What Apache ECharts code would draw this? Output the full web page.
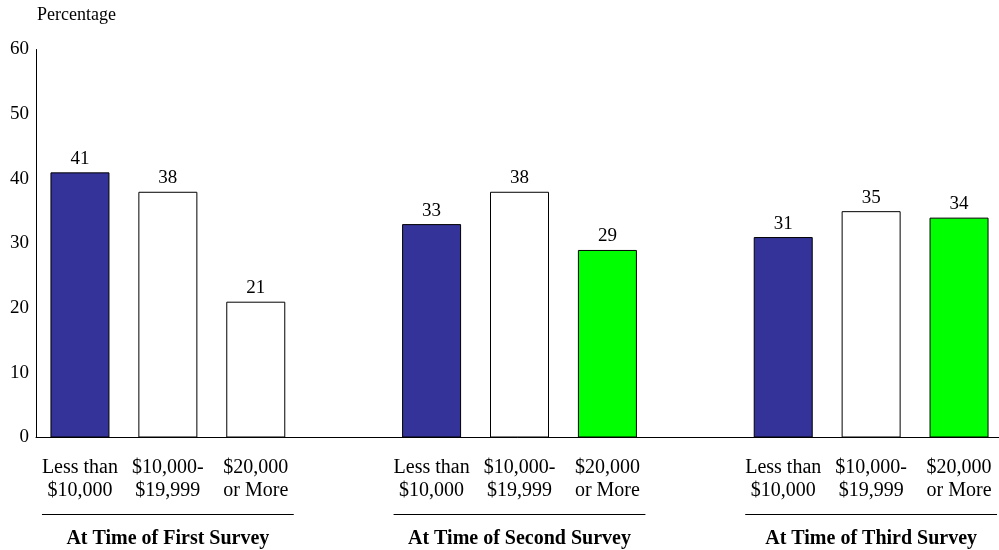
<!DOCTYPE html>
<html>
<head>
<meta charset="utf-8">
<script src="https://cdn.jsdelivr.net/npm/echarts@6/dist/echarts.min.js"></script>
<style>
  html, body { margin: 0; padding: 0; background: #fff; }
  #chart { width: 999px; height: 550px; }
</style>
</head>
<body>
<div id="chart"></div>
<script>
// Income groups shown under each bar
const incomeLabels = ['Less than\n$10,000', '$10,000-\n$19,999', '$20,000\nor More'];
// Survey waves (group titles)
const surveyTitles = ['At Time of First Survey', 'At Time of Second Survey', 'At Time of Third Survey'];
// Percentages per survey wave, in income order
const firstSurvey = [41, 38, 21];
const secondSurvey = [33, 38, 29];
const thirdSurvey = [31, 35, 34];
// Y axis scale
const yMin = 0, yMax = 60, yStep = 10;

const NAVY = '#333399', WHITE = '#ffffff', GREEN = '#00ff00';
const surveyColors = [
  [NAVY, WHITE, WHITE],
  [NAVY, WHITE, GREEN],
  [NAVY, WHITE, GREEN]
];
const FONT = "'Liberation Serif', 'Times New Roman', serif";

// Build category slots: three bars per wave, with one empty slot between waves
const surveys = [firstSurvey, secondSurvey, thirdSurvey];
const categories = [];
const barData = [];
const groupSlots = [];
surveys.forEach((vals, g) => {
  if (g > 0) { categories.push(''); barData.push('-'); }
  const slots = [];
  vals.forEach((v, i) => {
    slots.push(categories.length);
    categories.push(incomeLabels[i]);
    barData.push({ value: v, itemStyle: { color: surveyColors[g][i] } });
  });
  groupSlots.push(slots);
});

const chart = echarts.init(document.getElementById('chart'), null, { renderer: 'canvas' });
chart.setOption({
  animation: false,
  backgroundColor: '#ffffff',
  textStyle: { fontFamily: FONT },
  grid: {
    left: 36, top: 49.5, width: 967, height: 388,
    containLabel: false, outerBoundsMode: 'none'
  },
  xAxis: {
    type: 'category',
    data: categories,
    axisLine: { lineStyle: { color: '#000', width: 1 } },
    axisTick: { show: false },
    axisLabel: {
      interval: 0, color: '#000', fontFamily: FONT, fontSize: 20,
      lineHeight: 23, margin: 19
    }
  },
  yAxis: {
    type: 'value',
    min: yMin, max: yMax, interval: yStep,
    name: 'Percentage',
    nameLocation: 'end',
    nameGap: 0,
    nameTextStyle: {
      color: '#000', fontFamily: FONT, fontSize: 18,
      align: 'left', verticalAlign: 'bottom', padding: [0, 0, 25, 1]
    },
    axisLine: { show: true, lineStyle: { color: '#000', width: 1 } },
    axisTick: { show: false },
    splitLine: { show: false },
    axisLabel: { color: '#000', fontFamily: FONT, fontSize: 19, margin: 7 }
  },
  series: [{
    type: 'bar',
    data: barData,
    barWidth: 59,
    itemStyle: { borderColor: '#000', borderWidth: 1 },
    label: {
      show: true, position: 'top', distance: 4,
      color: '#000', fontFamily: FONT, fontSize: 19
    }
  }]
});

// Underlines and titles for each survey wave, placed from the category axis
function slotX(i) { return chart.convertToPixel({ xAxisIndex: 0 }, i); }
const graphics = [];
groupSlots.forEach((slots, g) => {
  const x0 = slotX(slots[0]) - 38;
  const x1 = slotX(slots[slots.length - 1]) + 38;
  graphics.push({
    type: 'line',
    shape: { x1: x0, y1: 514.5, x2: x1, y2: 514.5 },
    style: { stroke: '#000', lineWidth: 1 }
  });
  graphics.push({
    type: 'text',
    x: (x0 + x1) / 2, y: 539,
    style: {
      text: surveyTitles[g], fill: '#000', font: 'bold 20px ' + FONT,
      align: 'center', verticalAlign: 'middle'
    }
  });
});
chart.setOption({ graphic: graphics });
</script>
</body>
</html>
